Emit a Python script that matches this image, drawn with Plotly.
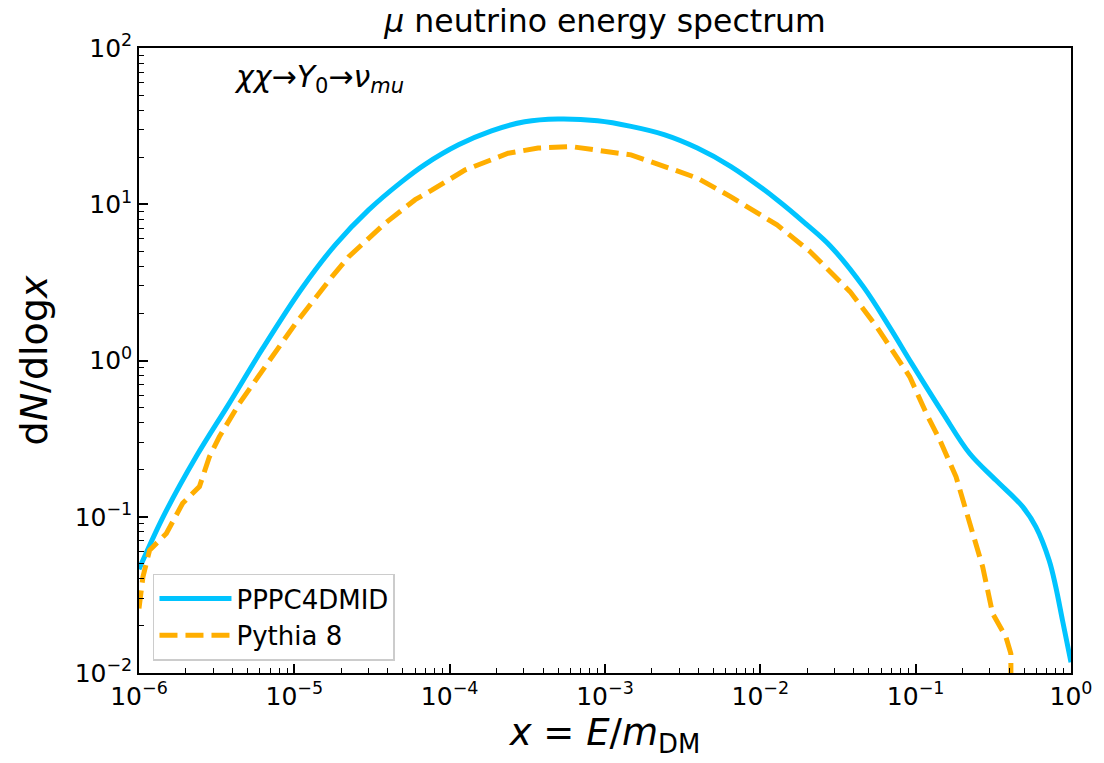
import plotly.graph_objects as go

# PPPC4DMID muon-neutrino spectrum, x = E/m_DM vs dN/dlogx
pppc_x = [1.0e-6, 1.43e-6, 2.33e-6, 3.81e-6, 6.24e-6, 1.12e-5, 1.84e-5, 3.01e-5,
          4.92e-5, 6.95e-5, 1.14e-4, 1.86e-4, 3.04e-4, 4.98e-4, 8.97e-4, 1.47e-3,
          2.40e-3, 3.93e-3, 6.43e-3, 1.28e-2, 1.99e-2, 2.81e-2, 4.60e-2, 6.81e-2,
          9.44e-2, 0.150, 0.222, 0.329, 0.488, 0.594, 0.723, 0.798, 0.881, 1.0]
pppc_y = [0.0461, 0.0998, 0.242, 0.532, 1.19, 2.90, 5.52, 9.20,
          13.96, 18.0, 24.0, 29.5, 33.7, 35.1, 34.2, 31.5,
          27.9, 22.9, 17.5, 10.7, 7.41, 5.43, 2.97, 1.63,
          0.955, 0.459, 0.255, 0.171, 0.116, 0.0861, 0.0527, 0.0356, 0.0218, 0.0117]

# Pythia 8 muon-neutrino spectrum
pythia_x = [1.0e-6, 1.06e-6, 1.17e-6, 1.50e-6, 1.91e-6, 2.45e-6, 2.84e-6, 3.29e-6,
            4.43e-6, 6.24e-6, 7.98e-6, 1.02e-5, 1.75e-5, 2.24e-5, 3.85e-5, 6.00e-5,
            7.67e-5, 1.26e-4, 2.38e-4, 3.71e-4, 6.05e-4, 9.91e-4, 1.47e-3, 2.40e-3,
            3.93e-3, 6.43e-3, 1.28e-2, 2.09e-2, 3.78e-2, 5.60e-2, 9.16e-2, 0.117,
            0.143, 0.182, 0.222, 0.270, 0.313, 0.381, 0.410, 0.412]
pythia_y = [0.0259, 0.0412, 0.0611, 0.0782, 0.122, 0.156, 0.242, 0.325,
            0.532, 0.869, 1.22, 1.73, 3.44, 4.62, 7.57, 10.7,
            12.3, 16.6, 21.2, 22.9, 23.4, 22.0, 20.7, 17.5,
            14.7, 11.2, 7.38, 4.98, 2.76, 1.65, 0.787, 0.459,
            0.310, 0.180, 0.0951, 0.0478, 0.0240, 0.0170, 0.0133, 0.0025]

x_decades = [-6, -5, -4, -3, -2, -1, 0]
y_decades = [-2, -1, 0, 1, 2]

FONT = "DejaVu Sans"
BLUE = "#00C4FF"
ORANGE = "#FFAE00"


def sup_label(p):
    s = str(p).replace("-", "\u2212")
    return f"10<sup>{s}</sup>"


def minor_vals(decades):
    vals = []
    for d in decades[:-1]:
        for k in range(2, 10):
            vals.append(k * 10.0 ** d)
    return vals


fig = go.Figure()
fig.add_trace(go.Scatter(
    x=pppc_x, y=pppc_y, mode="lines", name="PPPC4DMID",
    line=dict(color=BLUE, width=5, shape="spline", smoothing=1.0),
))
fig.add_trace(go.Scatter(
    x=pythia_x, y=pythia_y, mode="lines", name="Pythia 8",
    line=dict(color=ORANGE, width=5, dash="18px,8px"),
))

axis_common = dict(
    type="log", showgrid=False, zeroline=False,
    showline=True, linecolor="black", linewidth=1.5, mirror=True,
    ticks="inside", ticklen=9, tickwidth=1.5, tickcolor="black",
    tickfont=dict(family=FONT, size=25, color="black"),
)

fig.update_xaxes(
    **axis_common,
    range=[-6, 0],
    tickmode="array",
    tickvals=[10.0 ** d for d in x_decades],
    ticktext=[sup_label(d) for d in x_decades],
    minor=dict(ticks="inside", ticklen=5, tickwidth=1.2, tickcolor="black",
               tickmode="array", tickvals=minor_vals(x_decades), showgrid=False),
    title=dict(text="<i>x</i> = <i>E</i>/<i>m</i><sub>DM</sub>",
               font=dict(family=FONT, size=37, color="black"), standoff=6),
)
fig.update_yaxes(
    **axis_common,
    range=[-2, 2],
    tickmode="array",
    tickvals=[10.0 ** d for d in y_decades],
    ticktext=[sup_label(d) for d in y_decades],
    minor=dict(ticks="inside", ticklen=5, tickwidth=1.2, tickcolor="black",
               tickmode="array", tickvals=minor_vals(y_decades), showgrid=False),
    title=dict(text="d<i>N</i>/dlog<i>x</i>",
               font=dict(family=FONT, size=38, color="black"), standoff=15),
)

fig.update_layout(
    width=1104, height=763,
    margin=dict(l=139, r=29, t=48, b=90),
    paper_bgcolor="white", plot_bgcolor="white",
    font=dict(family=FONT, color="black"),
    title=dict(text="<i>μ</i> neutrino energy spectrum",
               font=dict(family=FONT, size=31.5, color="black"),
               x=0.5, xref="paper", xanchor="center",
               y=0.973, yref="container", yanchor="middle"),
    legend=dict(
        x=0.015, y=0.02, xanchor="left", yanchor="bottom",
        bgcolor="rgba(255,255,255,0.85)", bordercolor="#cccccc", borderwidth=1.5,
        font=dict(family=FONT, size=26, color="black"),
        itemwidth=72, tracegroupgap=4,
    ),
    showlegend=True,
)

fig.add_annotation(
    text="<i>χχ</i>→<i>Y</i><sub>0</sub>→<i>ν</i><sub><i>mu</i></sub>",
    xref="paper", yref="paper", x=0.1, y=0.985,
    xanchor="left", yanchor="top", showarrow=False,
    font=dict(family=FONT, size=30, color="black"),
)

fig.write_html("out.html")
